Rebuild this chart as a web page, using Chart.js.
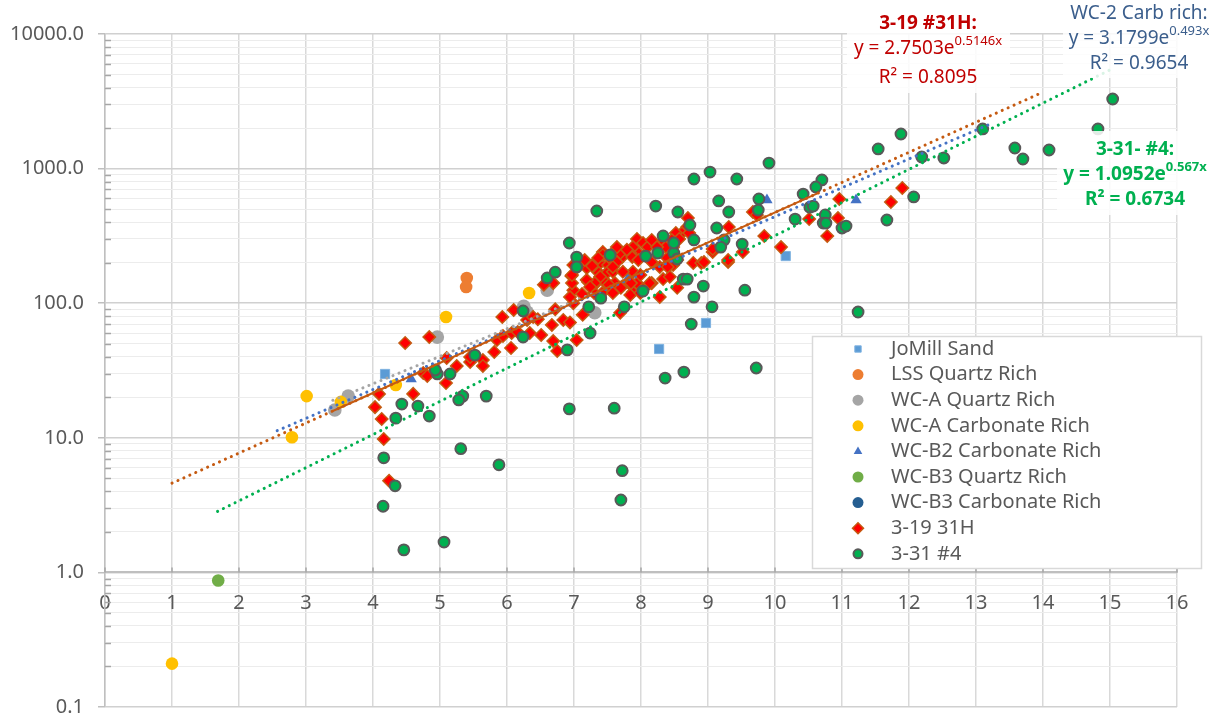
<!DOCTYPE html>
<html>
<head>
<meta charset="utf-8">
<title>Permeability vs porosity</title>
<script src="https://cdn.jsdelivr.net/npm/chart.js@4.4.1/dist/chart.umd.min.js"></script>
<style>
  html, body { margin: 0; padding: 0; background: #fff; }
  #wrap { width: 1217px; height: 719px; }
</style>
</head>
<body>
<div id="wrap"><canvas id="chart" width="1217" height="719"></canvas></div>
<script>
/* ---------- data ---------- */
const seriesLabels = [
  'JoMill Sand', 'LSS Quartz Rich', 'WC-A Quartz Rich', 'WC-A Carbonate Rich',
  'WC-B2 Carbonate Rich', 'WC-B3 Quartz Rich', 'WC-B3 Carbonate Rich', '3-19 31H', '3-31 #4'
];

const jomillX = [4.18, 8.27, 8.97, 10.16];
const jomillY = [29.8, 45.7, 71.3, 224];

const lssX = [5.40, 5.39];
const lssY = [154, 132];

const wcaQuartzX = [3.43, 3.63, 4.96, 6.25, 6.30, 6.60, 7.31];
const wcaQuartzY = [16.1, 20.4, 56, 95, 86, 125, 85];

const wcaCarbX = [1.00, 2.79, 3.01, 3.52, 4.34, 5.09, 6.33];
const wcaCarbY = [0.21, 10.1, 20.4, 18.5, 24.7, 79, 119];

const wcb2CarbX = [4.57, 7.82, 9.88, 11.21];
const wcb2CarbY = [27.3, 157, 584, 584];

const wcb3QuartzX = [1.69];
const wcb3QuartzY = [0.87];

const wcb3CarbX = [8.46];
const wcb3CarbY = [240];

const w319X = [
  4.09, 4.03, 4.13, 4.16, 4.24, 4.48, 4.84, 4.60, 4.75, 4.81, 5.09, 5.10, 5.25, 5.45, 5.45,
  5.64, 5.64, 5.81, 6.06, 5.85, 5.94, 6.07, 6.16, 6.34, 6.51, 6.69, 6.75, 7.04, 5.93, 6.10,
  6.30, 6.39, 6.67, 6.84, 6.94, 7.13, 6.46, 6.72, 6.99, 6.99, 7.12, 6.96, 6.97, 6.69, 6.55,
  6.99, 7.07, 7.19, 7.28, 7.39, 7.51, 7.37, 7.49, 7.58, 7.21, 7.33, 7.46, 7.54, 7.61, 7.30,
  7.42, 7.52, 7.43, 7.58, 7.72, 7.69, 7.87, 7.96, 7.70, 7.82, 7.88, 7.84, 7.99, 7.94, 8.16,
  8.06, 8.39, 8.48, 8.54, 8.28, 8.33, 8.54, 8.78, 8.90, 8.94, 9.07, 9.30, 9.52, 7.69, 8.70,
  8.69, 8.61, 8.72, 8.52, 8.57, 8.46, 8.48, 8.28, 8.37, 8.18, 7.94, 8.03, 8.10, 8.16, 8.24,
  7.88, 7.84, 7.64, 7.79, 7.43, 7.52, 7.36, 7.27, 7.16, 7.04, 6.97, 7.64, 7.58, 7.87, 7.96,
  8.16, 8.28, 8.40, 7.88, 7.99, 7.73, 7.85, 8.03, 8.13, 7.39, 7.31, 7.19, 7.24, 6.94, 7.58,
  8.43, 9.07, 9.31, 9.30, 9.67, 9.73, 9.84, 10.09, 10.51, 10.78, 10.96, 10.94, 11.73, 11.90
];
const w319Y = [
  21.2, 16.9, 13.8, 9.8, 4.8, 50.6, 56, 21.2, 30.3, 28.8, 25.5, 39.2, 34.2, 36.6, 39.8,
  37.8, 34.2, 43.4, 46.5, 53.2, 57, 60, 61, 60, 58.1, 52.3, 44.2, 53.2, 79, 89,
  75, 79, 69, 75, 72, 82, 76, 90, 125, 100, 117, 159, 141, 141, 137,
  192, 192, 183, 192, 199, 192, 168, 168, 171, 144, 141, 144, 132, 141, 119,
  119, 137, 240, 236, 220, 236, 240, 236, 130, 141, 121, 115, 119, 141, 141,
  228, 217, 192, 209, 111, 151, 130, 199, 199, 202, 240, 202, 240, 85, 429,
  368, 332, 332, 332, 300, 295, 261, 275, 261, 285, 300, 280, 261, 295, 261,
  261, 236, 261, 250, 228, 220, 217, 189, 209, 183, 162, 202, 186, 220, 209,
  202, 186, 186, 171, 162, 171, 141, 127, 141, 157, 141, 149, 132, 111, 119,
  157, 253, 368, 209, 476, 452, 316, 261, 422, 316, 595, 429, 564, 718
];

const w331X = [
  4.15, 4.16, 4.33, 4.46, 5.06, 5.31, 5.88, 6.93, 7.60, 7.72, 7.70, 8.36, 8.64, 9.72, 11.24,
  9.55, 8.75, 9.06, 8.93, 8.79, 8.63, 8.69, 8.03, 7.75, 7.40, 7.22, 7.24, 6.90, 5.69, 5.34,
  5.28, 4.84, 4.67, 4.43, 4.34, 4.96, 5.15, 4.93, 5.52, 6.24, 6.24, 6.60, 6.72, 7.04, 7.04,
  7.54, 8.07, 8.25, 8.49, 8.54, 8.49, 8.33, 8.73, 8.79, 9.13, 9.24, 9.19, 9.51, 9.91, 9.03,
  8.79, 9.43, 7.34, 8.22, 8.55, 9.16, 9.31, 9.76, 9.75, 10.42, 10.52, 10.30, 6.93, 10.70, 10.61,
  10.57, 10.75, 10.72, 10.76, 11.00, 11.06, 11.67, 12.07, 11.54, 11.88, 12.19, 12.52, 13.10, 13.58, 13.70,
  14.09, 14.82, 15.04
];
const w331Y = [
  3.1, 7.1, 4.4, 1.47, 1.68, 8.3, 6.3, 16.4, 16.6, 5.7, 3.45, 27.8, 30.8, 33, 86,
  125, 70, 94, 134, 111, 151, 151, 123, 94, 109, 94, 60, 45, 20.4, 20.4,
  19.1, 14.5, 17.2, 17.8, 14.0, 29.8, 29.8, 31.9, 41.2, 56, 87.5, 154, 170, 220, 186,
  228, 224, 236, 236, 213, 280, 316, 381, 295, 362, 295, 261, 275, 1100, 943,
  837, 837, 484, 527, 476, 575, 476, 595, 492, 647, 517, 422, 280, 824, 730,
  527, 452, 394, 394, 362, 374, 415, 616, 1399, 1808, 1220, 1199, 1970, 1422, 1178,
  1375, 1970, 3288
];

// exponential fits y = a * e^(b x)
const fitTitles = ['3-19 #31H:', 'WC-2 Carb rich:', '3-31- #4:'];
const fitA = [2.7503, 3.1799, 1.0952];
const fitB = [0.5146, 0.493, 0.567];
const fitR2 = [0.8095, 0.9654, 0.6734];
const fitFromX = [1.0, 2.57, 1.68];
const fitToX = [14.0, 13.18, 15.05];
// solid part of the 3-19 fit
const fit319SolidX = [3.4, 10.65];
// WC-A quartz trend (no equation shown)
const wcaTrendX = [3.4, 7.3];
const wcaTrendY = [19, 119];

const decades = [0.1, 1, 10, 100, 1000, 10000];
const minorSteps = [2, 3, 4, 5, 6, 7, 8, 9];
const xMin = 0, xMax = 16;

/* ---------- helpers ---------- */
const FONT = '"Noto Sans", "Open Sans", sans-serif';
const pts = (xs, ys) => xs.map((x, i) => ({ x: x, y: ys[i] }));
const fitPts = (i, xs) => xs.map(x => ({ x: x, y: fitA[i] * Math.exp(fitB[i] * x) }));

const yTicks = [];
decades.forEach(d => {
  yTicks.push(d);
  if (d < 10000) minorSteps.forEach(m => yTicks.push(+(d * m).toPrecision(3)));
});

/* ---------- series styles ---------- */
const styles = [
  { style: 'rect',     r: 6.5, fill: '#5B9BD5', line: '#7FB2E0', bw: 1, lr: 4.5 },
  { style: 'circle',   r: 6.3, fill: '#ED7D31', line: '#ED7D31', bw: 0, lr: 5.5 },
  { style: 'circle',   r: 6.8, fill: '#A5A5A5', line: '#A5A5A5', bw: 0, lr: 5.5 },
  { style: 'circle',   r: 6.3, fill: '#FFC000', line: '#FFC000', bw: 0, lr: 5.5 },
  { style: 'triangle', r: 6.5, fill: '#4472C4', line: '#4472C4', bw: 0, lr: 5 },
  { style: 'circle',   r: 6.3, fill: '#70AD47', line: '#70AD47', bw: 0, lr: 5.5 },
  { style: 'circle',   r: 6.3, fill: '#255E91', line: '#255E91', bw: 0, lr: 5.5 },
  { style: 'rectRot',  r: 6.2, fill: '#FF0000', line: '#C55A11', bw: 1.5, lr: 5.5 },
  { style: 'circle',   r: 5.4, fill: '#00B050', line: '#595959', bw: 2, lr: 4.5 }
];

const seriesData = [
  pts(jomillX, jomillY), pts(lssX, lssY), pts(wcaQuartzX, wcaQuartzY), pts(wcaCarbX, wcaCarbY),
  pts(wcb2CarbX, wcb2CarbY), pts(wcb3QuartzX, wcb3QuartzY), pts(wcb3CarbX, wcb3CarbY),
  pts(w319X, w319Y), pts(w331X, w331Y)
];

const scatterSets = seriesLabels.map((label, i) => ({
  label: label,
  data: seriesData[i],
  pointStyle: styles[i].style,
  pointRadius: styles[i].r,
  pointBackgroundColor: styles[i].fill,
  pointBorderColor: styles[i].line,
  pointBorderWidth: styles[i].bw,
  showLine: false,
  order: 20 - i
}));

function dotted(data, color) {
  return {
    type: 'line', data: data, showLine: true, pointRadius: 0, fill: false,
    borderColor: color, borderWidth: 3, borderDash: [0.1, 6.4], borderCapStyle: 'round',
    order: 1
  };
}

const trendSets = [
  dotted(pts(wcaTrendX, wcaTrendY), '#A5A5A5'),
  dotted(fitPts(1, [fitFromX[1], fitToX[1]]), '#4472C4'),
  dotted(fitPts(2, [fitFromX[2], fitToX[2]]), '#00B050'),
  dotted(fitPts(0, [fitFromX[0], fitToX[0]]), '#C55A11'),
  { type: 'line', data: fitPts(0, fit319SolidX), showLine: true, pointRadius: 0, fill: false,
    borderColor: '#C55A11', borderWidth: 2, order: 0 }
];

/* ---------- equation boxes + legend ---------- */
const labelBoxes = [
  { i: 0, box: [847, 3, 163, 90],  cx: 928,  ys: [24, 49, 78],  color: '#C00000', boldTitle: true, boldBody: false },
  { i: 1, box: [1063, 0, 154, 78], cx: 1139, ys: [14, 39, 64],  color: '#3B5E8C', boldTitle: false, boldBody: false },
  { i: 2, box: [1057, 131, 157, 84], cx: 1135, ys: [150, 175, 200], color: '#00B050', boldTitle: true, boldBody: true }
];
const legendBox = { x: 812, y: 336, w: 389, h: 232, markX: 858, textX: 891, firstY: 349, step: 25.6 };

function font(size, bold) {
  return (bold ? 'bold ' : '') + size + 'px ' + FONT;
}

function drawEquation(ctx, cx, cy, base, sup, bold) {
  ctx.font = font(19, bold);
  const w1 = ctx.measureText(base).width;
  ctx.font = font(13, bold);
  const w2 = ctx.measureText(sup).width;
  const x = cx - (w1 + w2) / 2;
  ctx.textAlign = 'left';
  ctx.font = font(19, bold);
  ctx.fillText(base, x, cy);
  ctx.font = font(13, bold);
  ctx.fillText(sup, x + w1, cy - 8);
}

const decorPlugin = {
  id: 'decor',
  beforeDatasetsDraw(chart) {
    // small inside tick marks for minor log gridlines and the x axis
    const ctx = chart.ctx, ys = chart.scales.y, xs = chart.scales.x;
    ctx.save();
    ctx.strokeStyle = '#A6A6A6';
    ctx.lineWidth = 1.5;
    yTicks.forEach(v => {
      if (decades.includes(v)) return;
      const py = Math.round(ys.getPixelForValue(v)) + 0.5;
      ctx.beginPath();
      ctx.moveTo(ys.right, py);
      ctx.lineTo(ys.right + 6, py);
      ctx.stroke();
    });
    const axisY = ys.getPixelForValue(1);
    for (let v = xMin; v <= xMax; v++) {
      const px = xs.getPixelForValue(v);
      ctx.beginPath();
      ctx.moveTo(px, axisY - 5);
      ctx.lineTo(px, axisY);
      ctx.stroke();
    }
    ctx.restore();
  },
  afterDraw(chart) {
    const ctx = chart.ctx;
    ctx.save();

    labelBoxes.forEach(b => {
      ctx.fillStyle = 'rgba(255,255,255,0.85)';
      ctx.fillRect(b.box[0], b.box[1], b.box[2], b.box[3]);
      ctx.fillStyle = b.color;
      ctx.textBaseline = 'middle';
      ctx.textAlign = 'center';
      ctx.font = font(19, b.boldTitle);
      ctx.fillText(fitTitles[b.i], b.cx, b.ys[0]);
      drawEquation(ctx, b.cx, b.ys[1], 'y = ' + fitA[b.i].toFixed(4) + 'e', String(fitB[b.i]) + 'x', b.boldBody);
      ctx.textAlign = 'center';
      ctx.font = font(19, b.boldBody);
      ctx.fillText('R\u00B2 = ' + fitR2[b.i].toFixed(4), b.cx, b.ys[2]);
    });

    const L = legendBox;
    ctx.fillStyle = '#FFFFFF';
    ctx.fillRect(L.x, L.y, L.w, L.h);
    ctx.strokeStyle = '#D9D9D9';
    ctx.lineWidth = 1.5;
    ctx.strokeRect(L.x + 0.5, L.y + 0.5, L.w, L.h);
    seriesLabels.forEach((label, i) => {
      const y = L.firstY + i * L.step;
      const s = styles[i];
      ctx.fillStyle = s.fill;
      ctx.strokeStyle = s.line;
      ctx.lineWidth = s.bw;
      Chart.helpers.drawPoint(ctx, { pointStyle: s.style, radius: s.lr, rotation: 0, borderWidth: s.bw }, L.markX, y);
      ctx.fillStyle = '#595959';
      ctx.font = font(20, false);
      ctx.textAlign = 'left';
      ctx.textBaseline = 'middle';
      ctx.fillText(label, L.textX, y);
    });
    ctx.restore();
  }
};

/* ---------- chart ---------- */
const isMajor = c => c.tick && decades.includes(c.tick.value);

new Chart(document.getElementById('chart'), {
  type: 'scatter',
  data: { datasets: scatterSets.concat(trendSets) },
  options: {
    responsive: false,
    animation: false,
    layout: { padding: { left: 0, top: 34, right: 40, bottom: 12 } },
    plugins: { legend: { display: false }, tooltip: { enabled: false } },
    scales: {
      x: {
        type: 'linear', min: xMin, max: xMax, position: { y: 1 },
        afterFit: s => { s.height = 0; },
        ticks: { stepSize: 1, color: '#595959', font: { family: FONT, size: 20 }, padding: 19, maxRotation: 0, autoSkip: false },
        grid: { color: '#D9D9D9', lineWidth: 1.5, drawTicks: false },
        border: { color: '#BFBFBF', width: 2 }
      },
      y: {
        type: 'logarithmic', min: decades[0], max: decades[decades.length - 1],
        afterBuildTicks: s => { s.ticks = yTicks.map(v => ({ value: v, major: decades.includes(v) })); },
        afterFit: s => { s.width = 105; s.paddingTop = 0; s.paddingBottom = 0; },
        ticks: {
          autoSkip: false, color: '#595959', font: { family: FONT, size: 20 }, padding: 14,
          callback: v => decades.includes(v) ? v.toFixed(1) : ''
        },
        grid: {
          color: c => isMajor(c) ? '#D0D0D0' : '#ECECEC',
          lineWidth: c => isMajor(c) ? 1.5 : 1,
          tickLength: 7,
          tickColor: c => isMajor(c) ? '#BFBFBF' : 'rgba(0,0,0,0)'
        },
        border: { color: '#BFBFBF', width: 1.5 }
      }
    }
  },
  plugins: [decorPlugin]
});
</script>
</body>
</html>
